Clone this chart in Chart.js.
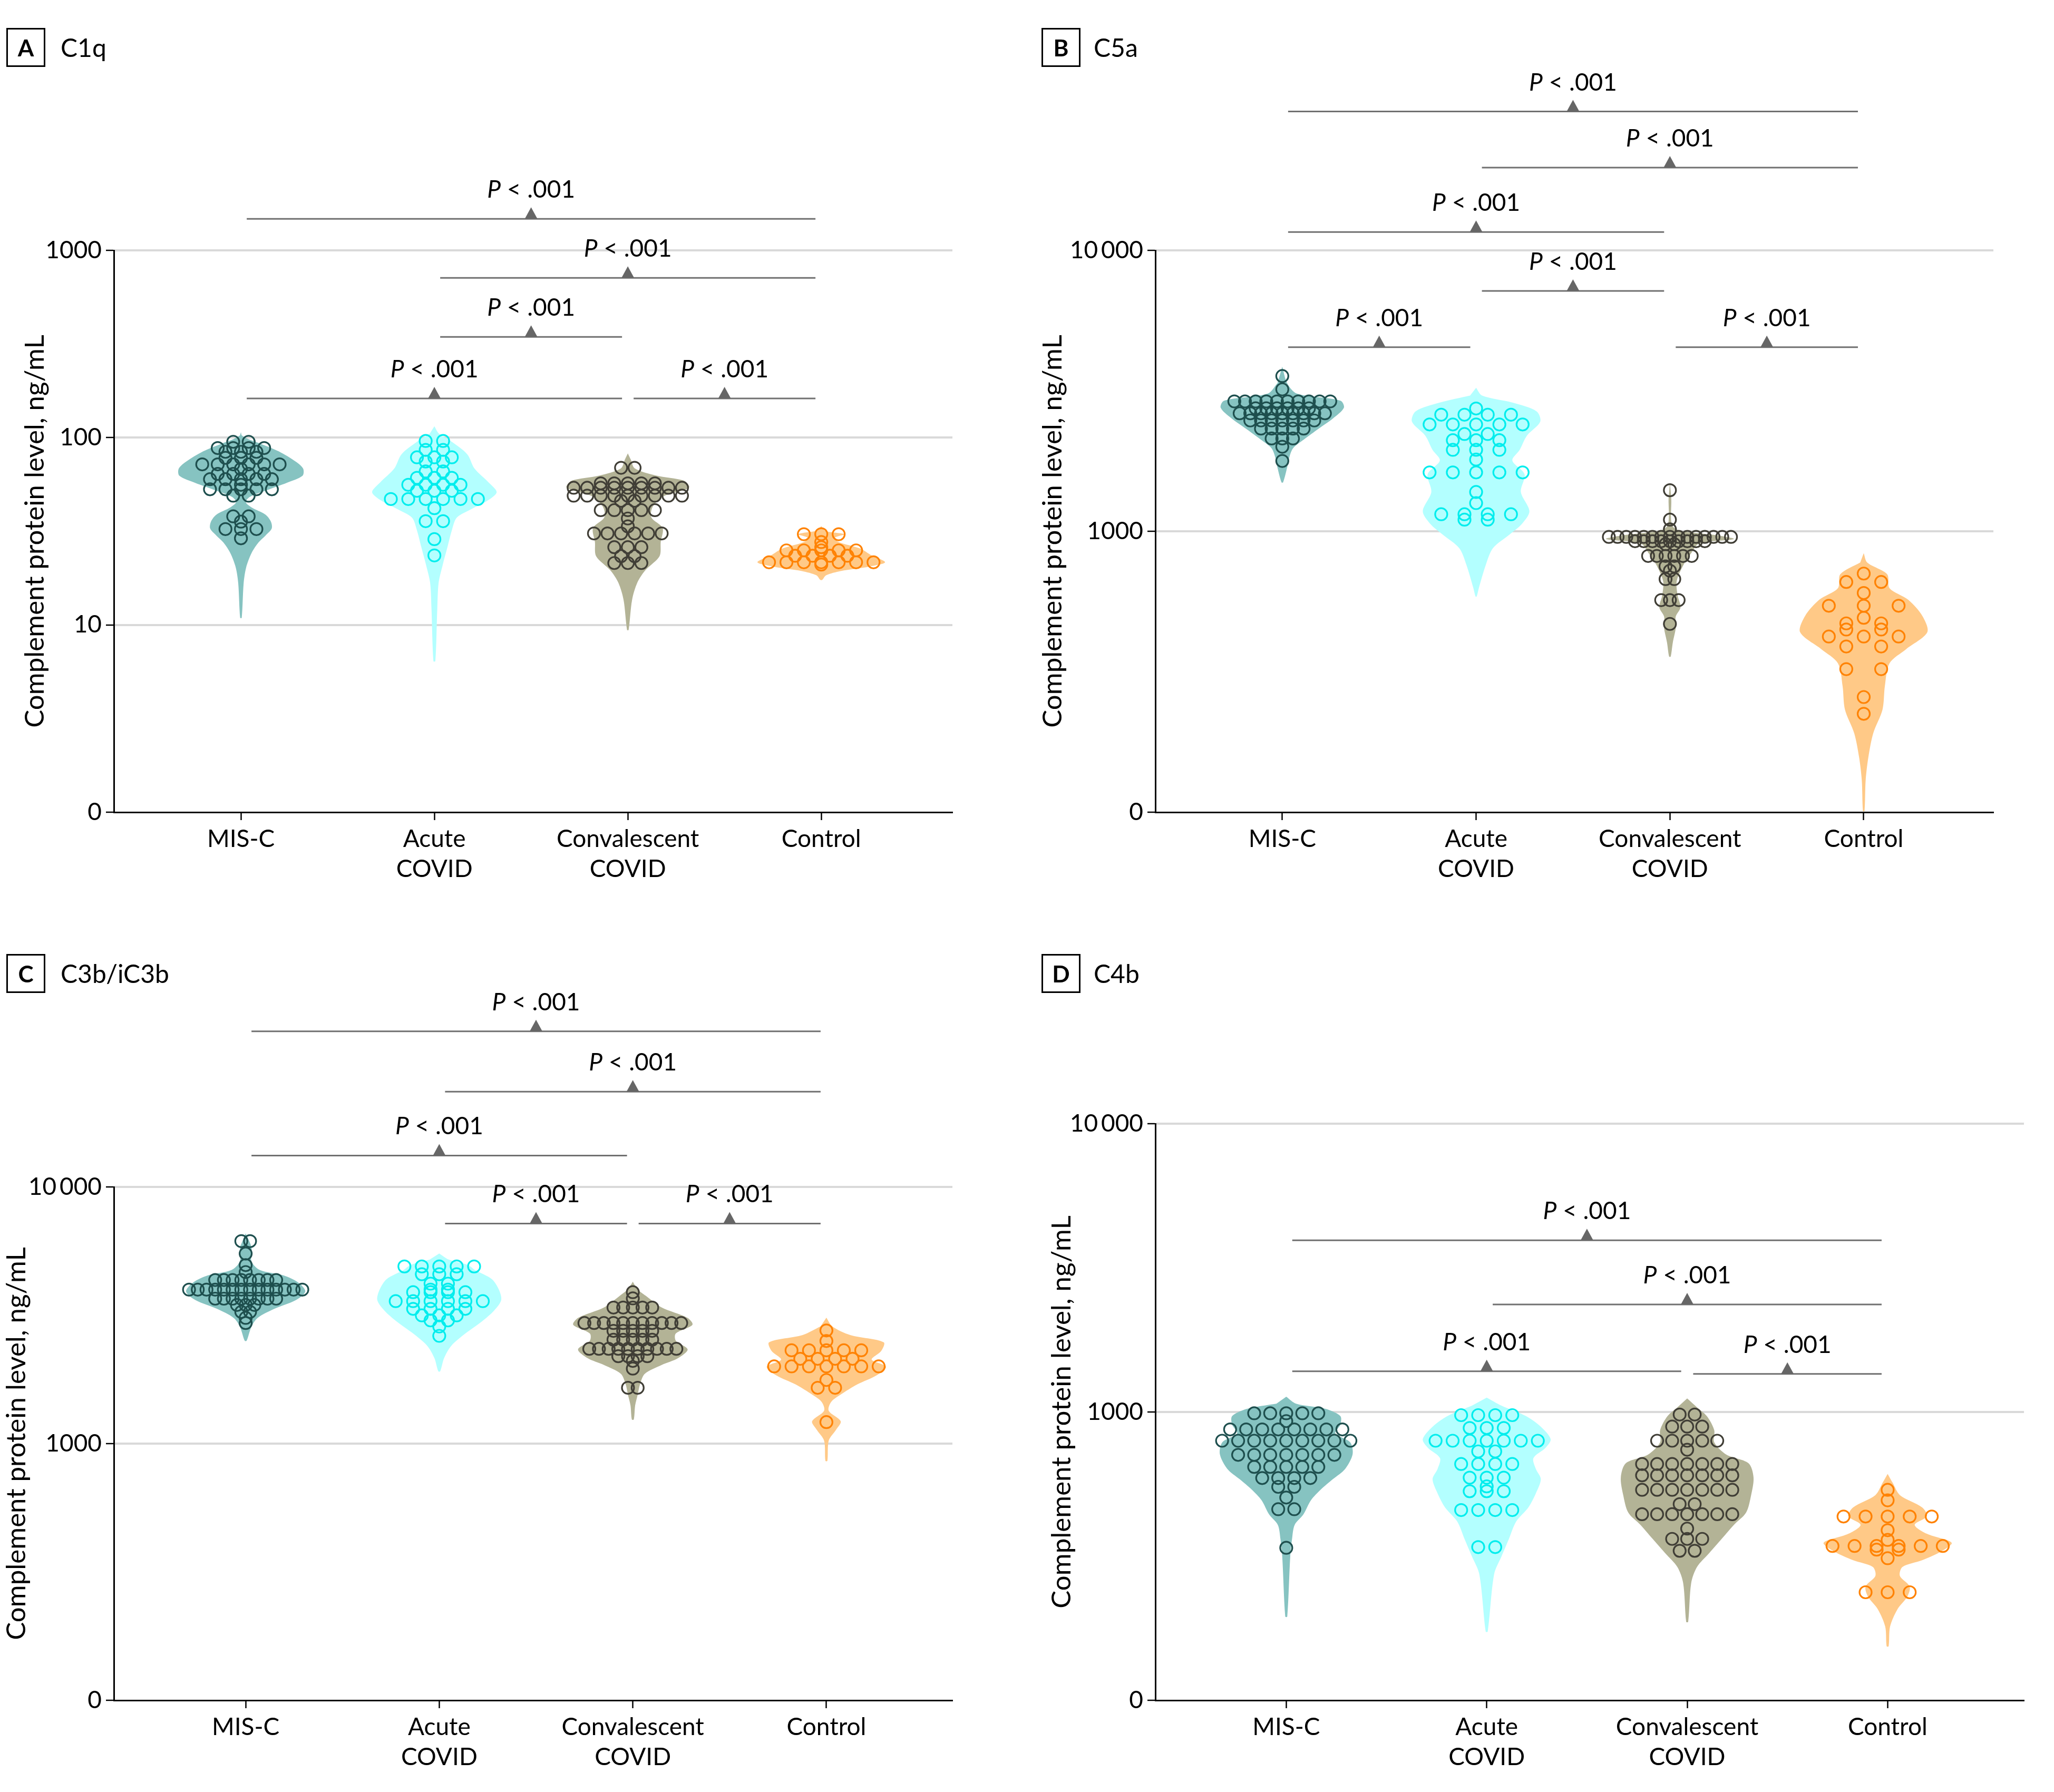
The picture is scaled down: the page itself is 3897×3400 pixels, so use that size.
<!DOCTYPE html>
<html>
<head>
<meta charset="utf-8">
<script src="https://cdn.jsdelivr.net/npm/chart.js@4.4.0/dist/chart.umd.min.js"></script>
<style>
    body { margin: 0; background: #fff; }
    #page { position: relative; width: 3897px; height: 3400px; font-family: Lato, 'Liberation Sans', sans-serif; color: #000; }
    #page canvas { position: absolute; }
    .tag { position: absolute; width: 68px; height: 68px; border: 3px solid #000; font-weight: 700; font-size: 44px; line-height: 68px; text-align: center; }
    .name { position: absolute; font-size: 48px; line-height: 74px; }
</style>
</head>
<body>
<div id="page">
    <canvas id="panelA" width="1948" height="1700" style="left:0;top:0"></canvas>
    <canvas id="panelB" width="1949" height="1700" style="left:1948px;top:0"></canvas>
    <canvas id="panelC" width="1948" height="1700" style="left:0;top:1700px"></canvas>
    <canvas id="panelD" width="1949" height="1700" style="left:1948px;top:1700px"></canvas>

    <div class="tag" style="left:12px;top:53px">A</div><div class="name" style="left:115px;top:53px">C1q</div>
    <div class="tag" style="left:1976px;top:53px">B</div><div class="name" style="left:2075px;top:53px">C5a</div>
    <div class="tag" style="left:12px;top:1810px">C</div><div class="name" style="left:115px;top:1810px">C3b/iC3b</div>
    <div class="tag" style="left:1976px;top:1810px">D</div><div class="name" style="left:2075px;top:1810px">C4b</div>
</div>
<script>
// groups on the x axis
const groupNames = [['MIS-C'], ['Acute', 'COVID'], ['Convalescent', 'COVID'], ['Control']];

// ---- A: C1q (ng/mL) ----
const c1qTicks = [1, 10, 100, 1000];
const c1qTickLabels = ['0', '10', '100', '1000'];
// violin outline: [level, half width in group units], top to bottom
const c1qViolins = [
    [[107, 0], [102.6, 0.005], [98.4, 0.036], [92, 0.11], [84.5, 0.195], [74.1, 0.286], [68.1, 0.322], [62.5, 0.318], [57.3, 0.236], [52.5, 0.136], [48.2, 0.045], [45.2, 0.025], [42.4, 0.055], [38.8, 0.127], [35.6, 0.155], [32.7, 0.159], [30, 0.127], [27.5, 0.09], [24.2, 0.055], [20.3, 0.027], [16.7, 0.014], [10.9, 0.004]],
    [[115, 0], [105, 0.024], [94.8, 0.091], [81.5, 0.17], [68.5, 0.207], [57.7, 0.28], [51.2, 0.322], [46.5, 0.28], [41.7, 0.195], [37.4, 0.116], [32.2, 0.091], [25.9, 0.067], [20.9, 0.043], [16.8, 0.022], [12.2, 0.015], [6.4, 0.005]],
    [[82.4, 0], [76.4, 0.015], [68.5, 0.036], [62.8, 0.146], [58.9, 0.29], [54.1, 0.316], [48.5, 0.182], [42.6, 0.128], [37.4, 0.122], [32.9, 0.18], [27.7, 0.17], [23.3, 0.164], [19.6, 0.091], [16.8, 0.049], [13.6, 0.022], [9.4, 0.004]],
    [[33.7, 0], [31.8, 0.02], [30.5, 0.12], [29.2, 0.07], [27.7, 0.09], [25.6, 0.2], [23.5, 0.26], [21.6, 0.33], [20.5, 0.25], [19.4, 0.1], [18.4, 0.025], [17.4, 0.005]]
];
// dots: [level, how many at that level]
const c1qDots = [
    [[95, 2], [88, 4], [84, 3], [78, 3], [72, 6], [68, 1], [64, 4], [60, 5], [56, 1], [53, 5], [49, 2], [38, 2], [35.6, 1], [32.5, 3], [29, 1]],
    [[96, 2], [86, 2], [78.5, 3], [74.5, 2], [66, 2], [61, 3], [56, 4], [52, 3], [47, 6], [42, 1], [35.8, 2], [28.7, 1], [23.5, 1]],
    [[69, 2], [57, 5], [54, 9], [49, 9], [46, 2], [41, 5], [37, 1], [33.6, 1], [30.8, 6], [26, 3], [23.3, 2], [21.4, 3]],
    [[30.5, 3], [27.7, 1], [26, 1], [25, 5], [23.4, 4], [21.6, 7], [21, 1]]
];
// comparisons: [from group, to group, level of the bar]
const c1qBrackets = [[0, 3, 1472], [1, 3, 713], [1, 2, 345], [0, 2, 162], [2, 3, 162]];

// ---- B: C5a ----
const c5aTicks = [100, 1000, 10000];
const c5aTickLabels = ['0', '1000', '10\u2009000'];
const c5aViolins = [
    [[3855, 0], [3365, 0.025], [3090, 0.075], [2917, 0.3], [2754, 0.318], [2523, 0.262], [2317, 0.187], [2123, 0.112], [1977, 0.056], [1841, 0.037], [1687, 0.025], [1493, 0.004]],
    [[3243, 0], [3041, 0.031], [2871, 0.187], [2673, 0.312], [2455, 0.331], [2188, 0.262], [1950, 0.225], [1786, 0.187], [1596, 0.25], [1380, 0.231], [1180, 0.275], [1064, 0.237], [977, 0.175], [871, 0.087], [759, 0.05], [631, 0.015], [586, 0.003]],
    [[1489, 0], [1303, 0.007], [1054, 0.01], [1005, 0.05], [966, 0.25], [938, 0.33], [904, 0.15], [836, 0.11], [759, 0.07], [664, 0.035], [590, 0.04], [537, 0.055], [497, 0.03], [452, 0.03], [402, 0.015], [358, 0.004]],
    [[836, 0], [774, 0.018], [703, 0.121], [627, 0.133], [570, 0.23], [499, 0.303], [437, 0.328], [380, 0.218], [339, 0.133], [281, 0.109], [232, 0.097], [191, 0.049], [157, 0.024], [130, 0.01], [101, 0.004]]
];
const c5aDots = [
    [[3570, 1], [3200, 1], [2900, 10], [2740, 6], [2630, 9], [2480, 7], [2320, 5], [2140, 3], [2000, 1], [1780, 1]],
    [[2735, 1], [2600, 4], [2400, 5], [2220, 2], [2110, 3], [1950, 3], [1800, 1], [1620, 5], [1380, 1], [1260, 1], [1150, 4], [1100, 2]],
    [[1400, 1], [1100, 1], [1016, 1], [955, 15], [922, 9], [900, 2], [817, 6], [750, 2], [724, 1], [676, 2], [569, 3], [468, 1]],
    [[707, 1], [660, 2], [603, 1], [543, 3], [492, 1], [470, 2], [447, 2], [422, 3], [389, 2], [323, 2], [257, 1], [224, 1]]
];
const c5aBrackets = [[0, 3, 31200], [1, 3, 19700], [0, 2, 11620], [1, 2, 7170], [0, 1, 4520], [2, 3, 4520]];

// ---- C: C3b/iC3b ----
const c3bTicks = [100, 1000, 10000];
const c3bTickLabels = ['0', '1000', '10\u2009000'];
const c3bViolins = [
    [[6592, 0], [5821, 0.03], [5129, 0.03], [4742, 0.074], [4519, 0.197], [4246, 0.271], [3917, 0.308], [3622, 0.259], [3350, 0.148], [3090, 0.062], [2858, 0.03], [2518, 0.005]],
    [[5508, 0], [5212, 0.049], [4966, 0.148], [4742, 0.185], [4375, 0.271], [3981, 0.308], [3622, 0.32], [3296, 0.283], [2999, 0.222], [2685, 0.135], [2404, 0.062], [2153, 0.025], [1914, 0.005]],
    [[4276, 0], [3981, 0.025], [3733, 0.074], [3396, 0.148], [3090, 0.283], [2904, 0.308], [2685, 0.222], [2518, 0.222], [2328, 0.283], [2153, 0.234], [2023, 0.148], [1871, 0.062], [1702, 0.037], [1549, 0.025], [1409, 0.012], [1242, 0.005]],
    [[3097, 0], [2864, 0.03], [2649, 0.123], [2483, 0.296], [2296, 0.283], [2123, 0.234], [1995, 0.308], [1845, 0.259], [1702, 0.16], [1574, 0.086], [1455, 0.025], [1343, 0.012], [1222, 0.074], [1130, 0.049], [1028, 0.012], [857, 0.005]]
];
const c3bDots = [
    [[6150, 2], [5500, 1], [4960, 1], [4660, 1], [4340, 8], [3980, 14], [3670, 8], [3470, 3], [3260, 2], [3090, 1], [2950, 1]],
    [[4900, 5], [4570, 3], [4200, 2], [3980, 2], [3890, 4], [3590, 6], [3350, 4], [3160, 3], [3020, 2], [2860, 1], [2630, 1]],
    [[3890, 1], [3680, 1], [3390, 5], [2950, 11], [2750, 5], [2540, 5], [2340, 10], [2190, 4], [2100, 1], [1960, 1], [1650, 2]],
    [[2760, 1], [2510, 1], [2310, 5], [2140, 4], [2000, 7], [1770, 1], [1650, 2], [1213, 1]]
];
const c3bBrackets = [[0, 3, 40400], [1, 3, 23500], [0, 2, 13250], [1, 2, 7200], [2, 3, 7200]];

// ---- D: C4b ----
const c4bTicks = [100, 1000, 10000];
const c4bTickLabels = ['0', '1000', '10\u2009000'];
const c4bViolins = [
    [[1130, 0], [1069, 0.049], [1026, 0.196], [968, 0.27], [904, 0.27], [843, 0.245], [785, 0.319], [713, 0.331], [635, 0.294], [585, 0.233], [538, 0.172], [494, 0.123], [442, 0.086], [406, 0.042], [363, 0.029], [316, 0.02], [195, 0.005]],
    [[1122, 0], [1052, 0.074], [968, 0.196], [889, 0.27], [805, 0.319], [752, 0.294], [692, 0.233], [635, 0.245], [585, 0.27], [522, 0.245], [467, 0.208], [417, 0.147], [362, 0.11], [316, 0.074], [274, 0.037], [173, 0.005]],
    [[1114, 0], [1038, 0.049], [968, 0.098], [865, 0.135], [785, 0.135], [711, 0.196], [664, 0.306], [593, 0.331], [515, 0.319], [448, 0.294], [406, 0.233], [363, 0.172], [324, 0.11], [290, 0.049], [255, 0.02], [187, 0.005]],
    [[610, 0], [568, 0.025], [515, 0.061], [467, 0.172], [435, 0.196], [406, 0.135], [378, 0.196], [352, 0.319], [329, 0.27], [306, 0.172], [290, 0.074], [270, 0.061], [248, 0.11], [229, 0.098], [207, 0.049], [180, 0.012], [154, 0.005]]
];
const c4bDots = [
    [[990, 5], [930, 1], [870, 8], [795, 9], [710, 7], [645, 5], [590, 4], [550, 2], [505, 1], [460, 2], [338, 1]],
    [[975, 4], [880, 3], [795, 7], [730, 2], [660, 4], [592, 3], [552, 1], [531, 3], [457, 4], [340, 2]],
    [[980, 2], [890, 3], [795, 5], [740, 1], [660, 7], [603, 7], [537, 7], [479, 2], [442, 7], [394, 1], [363, 3], [330, 2]],
    [[537, 1], [494, 1], [434, 5], [389, 1], [360, 1], [343, 6], [333, 2], [311, 1], [237, 3]]
];
const c4bBrackets = [[0, 3, 3940], [1, 3, 2360], [0, 2, 1384], [2, 3, 1355]];

// ---- styling ----
const violinColors = ['#86c3c1', '#b3ffff', '#b3b396', '#ffc987'];
const dotColors = ['#1e4f4e', '#00eded', '#403e36', '#ff8203'];
const FONT = 'Lato, "Liberation Sans", sans-serif';

function bracketPlugin(list) {
    return {
        id: 'brackets',
        afterDraw(chart) {
            const { ctx, scales: { x, y } } = chart;
            ctx.save();
            list.forEach(([from, to, level]) => {
                const x1 = x.getPixelForValue(from + 0.03);
                const x2 = x.getPixelForValue(to - 0.03);
                const yy = y.getPixelForValue(Math.log10(level));
                const xm = (x1 + x2) / 2;

                ctx.strokeStyle = '#707070';
                ctx.lineWidth = 3;
                ctx.beginPath();
                ctx.moveTo(x1, yy);
                ctx.lineTo(x2, yy);
                ctx.stroke();

                ctx.fillStyle = '#666';
                ctx.beginPath();
                ctx.moveTo(xm - 12, yy);
                ctx.lineTo(xm + 12, yy);
                ctx.lineTo(xm, yy - 22);
                ctx.closePath();
                ctx.fill();

                ctx.fillStyle = '#000';
                ctx.textBaseline = 'alphabetic';
                ctx.textAlign = 'left';
                ctx.font = 'italic 46px ' + FONT;
                const wP = ctx.measureText('P').width;
                ctx.font = '46px ' + FONT;
                const rest = ' < .001';
                const wR = ctx.measureText(rest).width;
                const x0 = xm - (wP + wR) / 2;
                ctx.font = 'italic 46px ' + FONT;
                ctx.fillText('P', x0, yy - 40);
                ctx.font = '46px ' + FONT;
                ctx.fillText(rest, x0 + wP, yy - 40);
            });
            ctx.restore();
        }
    };
}

function makePanel(id, cfg) {
    const canvas = document.getElementById(id);
    const datasets = [];

    cfg.violins.forEach((profile, g) => {
        const right = profile.map(([v, w]) => ({ x: g + w, y: Math.log10(v) }));
        const left = profile.slice(1).reverse().map(([v, w]) => ({ x: g - w, y: Math.log10(v) }));
        datasets.push({
            type: 'line',
            data: right.concat(left),
            fill: 'shape',
            backgroundColor: violinColors[g],
            borderColor: 'rgba(0,0,0,0)',
            borderWidth: 1,
            pointRadius: 0,
            tension: 0.3,
            order: 2
        });
    });

    // dots sharing a level are laid side by side, centred on the group
    cfg.dots.forEach((rows, g) => {
        const pts = [];
        const step = cfg.step[g];
        rows.forEach(([v, n]) => {
            for (let k = 0; k < n; k++) {
                pts.push({ x: g + (k - (n - 1) / 2) * step, y: Math.log10(v) });
            }
        });
        datasets.push({
            type: 'scatter',
            data: pts,
            pointRadius: 11.5,
            pointBorderWidth: 3.2,
            pointBorderColor: dotColors[g],
            pointBackgroundColor: 'rgba(0,0,0,0)',
            order: 1
        });
    });

    const H = canvas.height;
    const W = canvas.width;

    new Chart(canvas.getContext('2d'), {
        type: 'scatter',
        data: { datasets },
        plugins: [bracketPlugin(cfg.brackets)],
        options: {
            responsive: false,
            animation: false,
            events: [],
            layout: { padding: { top: cfg.top, right: W - cfg.right, bottom: 0, left: 0 } },
            plugins: { legend: { display: false }, tooltip: { enabled: false } },
            scales: {
                x: {
                    type: 'linear',
                    min: cfg.xmin,
                    max: cfg.xmax,
                    afterBuildTicks: s => { s.ticks = [0, 1, 2, 3].map(v => ({ value: v })); },
                    afterFit: s => { s.height = H - cfg.bottom; },
                    ticks: {
                        autoSkip: false,
                        maxRotation: 0,
                        padding: 8,
                        color: '#000',
                        font: { family: FONT, size: 46, lineHeight: 1.24 },
                        callback: (v, i) => groupNames[i]
                    },
                    grid: { drawOnChartArea: false, drawTicks: true, tickLength: 15, tickColor: '#000', tickWidth: 2.5 },
                    border: { display: true, color: '#000', width: 3 }
                },
                y: {
                    type: 'linear',
                    min: Math.log10(cfg.ticks[0]),
                    max: Math.log10(cfg.ticks[cfg.ticks.length - 1]),
                    afterBuildTicks: s => { s.ticks = cfg.ticks.map(v => ({ value: Math.log10(v) })); },
                    afterFit: s => { s.width = cfg.left; },
                    ticks: {
                        padding: 8,
                        color: '#000',
                        font: { family: FONT, size: 46 },
                        callback: (v, i) => cfg.tickLabels[i]
                    },
                    grid: {
                        color: c => c.index === 0 ? 'rgba(0,0,0,0)' : '#d9d9d9',
                        lineWidth: 4,
                        drawTicks: true,
                        tickLength: 15,
                        tickColor: '#000',
                        tickWidth: 2.5
                    },
                    border: { display: true, color: '#000', width: 3 },
                    title: {
                        display: true,
                        text: 'Complement protein level, ng/mL',
                        color: '#000',
                        font: { family: FONT, size: 51 },
                        padding: { top: cfg.titlePad, bottom: 0 }
                    }
                }
            }
        }
    });
}

makePanel('panelA', {
    ticks: c1qTicks, tickLabels: c1qTickLabels, violins: c1qViolins, dots: c1qDots, brackets: c1qBrackets,
    left: 216, top: 475, bottom: 1541, right: 1807, titlePad: 36, xmin: -0.657, xmax: 3.678,
    step: [0.08, 0.09, 0.07, 0.09]
});
makePanel('panelB', {
    ticks: c5aTicks, tickLabels: c5aTickLabels, violins: c5aViolins, dots: c5aDots, brackets: c5aBrackets,
    left: 244, top: 475, bottom: 1541, right: 1834, titlePad: 19, xmin: -0.655, xmax: 3.669,
    step: [0.055, 0.12, 0.045, 0.18]
});
makePanel('panelC', {
    ticks: c3bTicks, tickLabels: c3bTickLabels, violins: c3bViolins, dots: c3bDots, brackets: c3bBrackets,
    left: 216, top: 552, bottom: 1526, right: 1807, titlePad: 1, xmin: -0.681, xmax: 3.651,
    step: [0.045, 0.09, 0.05, 0.09]
});
makePanel('panelD', {
    ticks: c4bTicks, tickLabels: c4bTickLabels, violins: c4bViolins, dots: c4bDots, brackets: c4bBrackets,
    left: 244, top: 432, bottom: 1526, right: 1892, titlePad: 36, xmin: -0.653, xmax: 3.68,
    step: [0.08, 0.085, 0.075, 0.11]
});
</script>
</body>
</html>
